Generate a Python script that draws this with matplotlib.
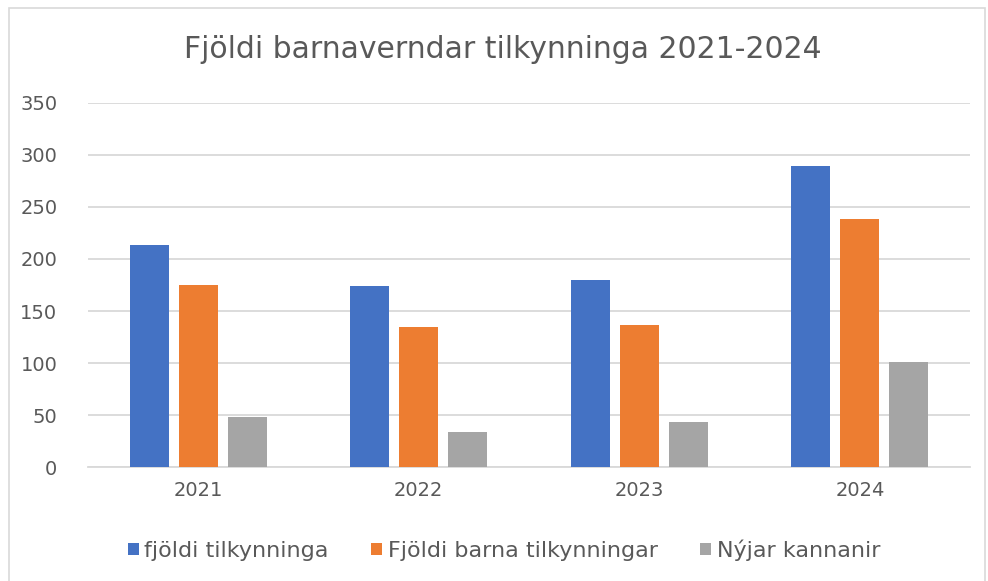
import numpy as np
import matplotlib
matplotlib.use('Agg')
import matplotlib.pyplot as plt
from matplotlib.patches import Rectangle

# data
years = ['2021', '2022', '2023', '2024']
fjoldi_tilk = [213, 174, 180, 289]
fjoldi_barna = [175, 135, 137, 238]
nyjar_kannanir = [48, 34, 43, 101]

labels = ['fjöldi tilkynninga', 'Fjöldi barna tilkynningar', 'Nýjar kannanir']
colors = ['#4472C4', '#ED7D31', '#A5A5A5']

plt.rcParams['font.family'] = ['DejaVu Sans']
txt = '#595959'

fig = plt.figure(figsize=(9.88, 5.81), dpi=100)
ax = fig.add_axes([0.089, 0.196, 0.893, 0.627])

# light frame round the chart
fig.patches.append(Rectangle((0.009, -0.01), 0.988, 0.997, transform=fig.transFigure,
                             fill=False, edgecolor='#D9D9D9', linewidth=1.2))

x = np.arange(len(years))
w = 0.177
step = 0.222
for i, (vals, c, lab) in enumerate(zip([fjoldi_tilk, fjoldi_barna, nyjar_kannanir], colors, labels)):
    ax.bar(x + (i - 1) * step, vals, width=w, color=c, label=lab, zorder=3)

ax.set_xlim(-0.5, 3.5)
ax.set_ylim(0, 350)
ax.set_yticks(range(0, 351, 50))
ax.set_xticks(x)
ax.set_xticklabels(years)
ax.grid(axis='y', color='#D9D9D9', linewidth=1.3, zorder=0)
for s in ['top', 'right', 'left']:
    ax.spines[s].set_visible(False)
ax.spines['bottom'].set_color('#D9D9D9')
ax.spines['bottom'].set_linewidth(1.3)
ax.tick_params(axis='both', length=0, labelsize=14, labelcolor=txt)
ax.tick_params(axis='y', pad=22)
ax.tick_params(axis='x', pad=10)

fig.text(0.509, 0.915, 'Fjöldi barnaverndar tilkynninga 2021-2024', ha='center', va='center',
         fontsize=21.5, color=txt)

fig.legend(loc='center', bbox_to_anchor=(0.51, 0.053), ncol=3, frameon=False,
           fontsize=16, labelcolor=txt, handlelength=0.5, handleheight=0.5,
           handletextpad=0.25, columnspacing=1.9)

fig.savefig('out.png', dpi=100)
